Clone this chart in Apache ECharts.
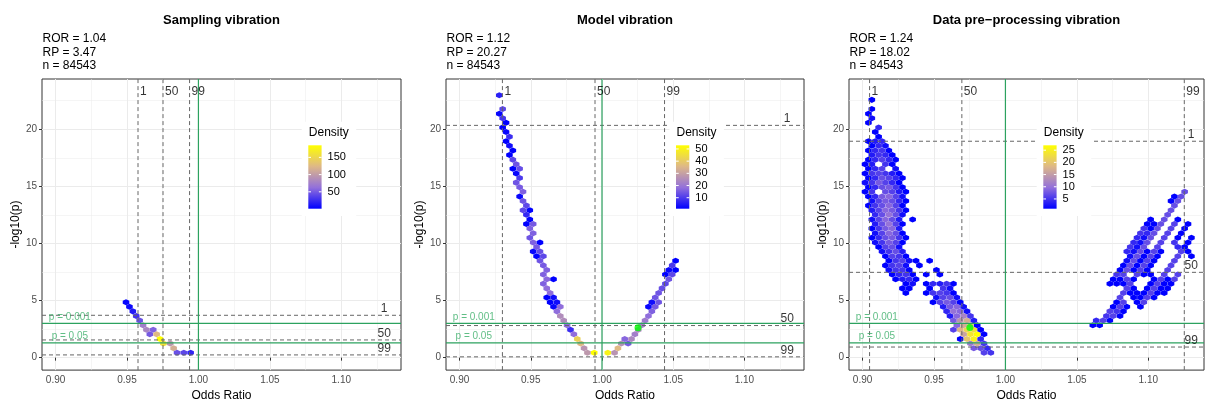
<!DOCTYPE html>
<html>
<head>
<meta charset="utf-8">
<script src="https://cdn.jsdelivr.net/npm/echarts@6/dist/echarts.min.js"></script>
<style>
  html, body { margin: 0; padding: 0; background: #fff; width: 100%; height: 100%; overflow: hidden; }
  #chart { width: 100vw; height: 100vh; }
</style>
</head>
<body>
<div id="chart"></div>
<script>
// ---------------- data ----------------
const panelTitles = ['Sampling vibration', 'Model vibration', 'Data pre\u2212processing vibration'];
const rorValues = ['1.04', '1.12', '1.24'];
const rpValues = ['3.47', '20.27', '18.02'];
const sampleSizes = [84543, 84543, 84543];
const xTicks = [0.90, 0.95, 1.00, 1.05, 1.10];
const yTicks = [0, 5, 10, 15, 20];

// 1st / 50th / 99th percentiles of the odds ratio and of -log10(p)
const pctLabels = ['1', '50', '99'];
const orPercentiles = [
  [0.9577, 0.9752, 0.9938],
  [0.9301, 0.9951, 1.0439],
  [0.9049, 0.9695, 1.1252]
];
const logpPercentiles = [
  [3.71, 1.55, 0.24],
  [20.34, 2.81, 0.07],
  [18.95, 7.47, 0.93]
];
const nullOddsRatio = 1;
const pThresholds = [0.001, 0.05];
const pThresholdLabels = ['p = 0.001', 'p = 0.05'];

const densityRange = [[1, 185], [1, 53], [1, 27]];
const densityTicks = [[50, 100, 150], [10, 20, 30, 40, 50], [5, 10, 15, 20, 25]];
const highlightPoints = [null, [1.0253, 2.61], [0.9751, 2.64]];

// hexagonal bins: row r / column c, odd rows shifted half a bin to the left
const BIN_X0 = 0.9041, BIN_W = 0.00476, BIN_Y0 = 0.43, BIN_H = 0.4026;

// [row, column, count]
const hexSampling = [
  [11, 10, 3], [10, 10, 6], [9, 11, 15], [8, 11, 28], [7, 12, 45], [6, 12, 75],
  [5, 13, 80], [5, 14, 55], [4, 13, 50], [4, 14, 125], [3, 15, 185],
  [2, 15, 160], [2, 16, 95], [1, 17, 115], [0, 17, 45], [0, 18, 40], [0, 19, 22]
];

const hexModel = [
  [56, 5, 6], [53, 6, 12], [52, 5, 2], [51, 6, 9], [50, 6, 1], [49, 6, 1], [48, 6, 2],
  [47, 7, 8], [46, 6, 1], [45, 7, 3], [44, 7, 1], [43, 7, 1], [42, 7, 12], [41, 8, 14],
  [40, 7, 1], [40, 8, 13], [39, 8, 2], [38, 8, 10], [37, 8, 14], [36, 8, 15], [35, 9, 16],
  [34, 8, 2], [33, 9, 14], [32, 9, 12], [31, 9, 12], [31, 10, 1], [30, 9, 7], [29, 10, 1],
  [28, 9, 1], [28, 10, 15], [27, 10, 16], [26, 10, 16], [25, 10, 14], [24, 10, 16], [24, 11, 1],
  [23, 11, 15], [22, 10, 2], [22, 11, 13], [21, 11, 1], [21, 12, 12], [20, 11, 14], [19, 12, 15],
  [18, 12, 16], [17, 12, 16], [16, 12, 17], [16, 13, 1], [15, 12, 16], [14, 12, 18], [13, 13, 18],
  [12, 12, 1], [12, 13, 3], [11, 13, 1], [11, 14, 3], [10, 13, 2], [10, 14, 18], [9, 14, 18],
  [8, 14, 25], [7, 15, 25], [6, 15, 18], [5, 16, 8], [4, 16, 18], [3, 17, 42], [2, 17, 36],
  [1, 18, 27], [0, 18, 28], [0, 19, 53],
  [0, 21, 50], [0, 22, 27], [1, 23, 36], [2, 23, 26], [2, 24, 15], [3, 24, 17], [3, 25, 24],
  [4, 25, 22], [5, 26, 24], [6, 26, 22], [7, 27, 21], [8, 27, 18], [9, 28, 16], [10, 27, 2],
  [10, 28, 15], [11, 28, 3], [11, 29, 14], [12, 28, 14], [13, 29, 14], [14, 29, 13], [15, 30, 12],
  [16, 30, 14], [17, 30, 1], [17, 31, 12], [18, 30, 2], [18, 31, 1], [19, 31, 10], [20, 31, 1]
];

// one entry per row (bottom row first): [first column, counts in base 36, '.' = empty bin]
const hexPreprocessing = [
  [[17, '65']],
  [[16, '874']],
  [[15, 'bh5']],
  [[14, '1kp4']],
  [[14, 'gor1']],
  [[13, '6imn1']],
  [[13, '9hj1'], [33, '11']],
  [[13, '8eh3'], [34, '461']],
  [[12, '39c5'], [35, '561']],
  [[12, '4a92'], [36, '651']],
  [[11, '3892'], [36, '161.1']],
  [[10, '16861'], [37, '16.16']],
  [[10, '2672'], [37, '6.1161']],
  [[6, '1..15651'], [38, '6111611']],
  [[5, '11..1.52'], [38, '61.1611']],
  [[6, '12.14351'], [36, '1116..1611']],
  [[4, '1341'], [36, '1161..1616']],
  [[4, '1451.1.1'], [37, '56.611.6.6']],
  [[3, '2551...1'], [37, '17161..6']],
  [[3, '1562.1'], [38, '17161..6']],
  [[3, '15621.1'], [38, '27161..6']],
  [[3, '1651'], [39, '27161..6.1']],
  [[2, '2573'], [38, '427161..61']],
  [[2, '1672'], [39, '527.6..41']],
  [[1, '25861'], [39, '427.6.5.1']],
  [[1, '147851'], [40, '427.6.1.1']],
  [[1, '26971'], [40, '547.6.1']],
  [[1, '15893'], [41, '517.6.1']],
  [[1, '37a61'], [41, '117.6.1']],
  [[1, '26973.1'], [42, '1.7.1']],
  [[1, '47a72'], [44, '7']],
  [[1, '369851'], [45, '7']],
  [[0, '157961'], [45, '7']],
  [[1, '268741'], [45, '17']],
  [[0, '148962'], [45, '17']],
  [[0, '15.7631'], [47, '7']],
  [[0, '147851']],
  [[0, '258641']],
  [[0, '147641']],
  [[0, '156531']],
  [[0, '146.2']],
  [[0, '13.51']],
  [[0, '14641']],
  [[1, '3541']],
  [[0, '1451']],
  [[1, '142']],
  [[0, '134']],
  [[2, '1']],
  [[1, '1']],
  [[2, '4']],
  [[0, '1']],
  [[1, '2']],
  [[0, '1']],
  [[1, '1']],
  [],
  [[1, '1']]
];

// ---------------- drawing ----------------
const FONT = '"Liberation Sans", Arial, Helvetica, sans-serif';
const PALETTE = ['#0000FF', '#9370DB', '#DEB887', '#FFFF00'];
const GREEN = '#2CA25F';
const GREEN_TEXT = '#3AAE68';
const DASH_GREY = '#666666';
const HEX_PATH = 'path://M0,-1L0.866,-0.5L0.866,0.5L0,1L-0.866,0.5L-0.866,-0.5Z';

const X_MIN = 0.8905, Y_MIN = -1.09, Y_MAX = 24.4;
// page layout in a 1205 x 407 frame, scaled to the actual canvas
const FRAME_W = 1205, FRAME_H = 407;
const panels = [
  { left: 42, top: 79, width: 359, height: 296, xMax: 1.1418, legendX: 308.3 },
  { left: 446, top: 79, width: 358, height: 296, xMax: 1.1418, legendX: 676.0 },
  { left: 849, top: 79, width: 355, height: 296, xMax: 1.1390, legendX: 1043.3 }
];
const LEGEND = { barTop: 145.3, barH: 63.4, barW: 13.3, boxTop: 121.7, boxH: 94.3, boxW: 54.5, titleY: 133 };

function hexCentre(row, col) {
  const shift = row % 2 === 1 ? -0.5 : 0;
  return [BIN_X0 + BIN_W * (col + shift), BIN_Y0 + BIN_H * row];
}
function fromTriples(list) {
  return list.map(([r, c, n]) => hexCentre(r, c).concat([n]));
}
function fromRows(rows) {
  const out = [];
  rows.forEach((segments, r) => {
    segments.forEach(([c0, codes]) => {
      for (let i = 0; i < codes.length; i++) {
        if (codes[i] === '.') continue;
        out.push(hexCentre(r, c0 + i).concat([parseInt(codes[i], 36)]));
      }
    });
  });
  return out;
}
const hexData = [fromTriples(hexSampling), fromTriples(hexModel), fromRows(hexPreprocessing)];

const el = document.getElementById('chart');
if (el.clientHeight < 100) el.style.height = FRAME_H + 'px';
if (el.clientWidth < 100) el.style.width = FRAME_W + 'px';
const chart = echarts.init(el, null, { renderer: 'canvas' });
const sx = chart.getWidth() / FRAME_W;
const sy = chart.getHeight() / FRAME_H;

const grid = [], xAxis = [], yAxis = [], series = [], visualMap = [], graphic = [];

function refLine(i, points, style, z) {
  return {
    type: 'line', xAxisIndex: i, yAxisIndex: i, data: points, silent: true, z: z,
    symbol: 'none', showSymbol: false, lineStyle: style, itemStyle: { color: style.color },
    emphasis: { disabled: true }, animation: false
  };
}

panels.forEach((p, i) => {
  const gl = p.left * sx, gt = p.top * sy, gw = p.width * sx, gh = p.height * sy;
  grid.push({
    left: gl, top: gt, width: gw, height: gh,
    show: true, borderColor: '#333333', borderWidth: 1, backgroundColor: 'transparent'
  });
  xAxis.push({
    type: 'value', gridIndex: i, min: X_MIN, max: p.xMax,
    name: 'Odds Ratio', nameLocation: 'middle', nameGap: 17,
    nameTextStyle: { color: '#000', fontSize: 12, fontFamily: FONT },
    axisLine: { show: false },
    axisTick: { show: true, length: 3, customValues: xTicks, lineStyle: { color: '#333', width: 1 } },
    axisLabel: { customValues: xTicks, formatter: v => v.toFixed(2), color: '#4D4D4D', fontSize: 10, margin: 5, fontFamily: FONT },
    splitLine: { show: true, lineStyle: { color: '#EBEBEB', width: 1 } },
    minorTick: { show: false, splitNumber: 2 },
    minorSplitLine: { show: true, lineStyle: { color: '#EBEBEB', width: 0.5 } }
  });
  yAxis.push({
    type: 'value', gridIndex: i, min: Y_MIN, max: Y_MAX,
    name: '-log10(p)', nameLocation: 'middle', nameGap: 20,
    nameTextStyle: { color: '#000', fontSize: 12, fontFamily: FONT },
    axisLine: { show: false },
    axisTick: { show: true, length: 3, customValues: yTicks, lineStyle: { color: '#333', width: 1 } },
    axisLabel: { customValues: yTicks, color: '#4D4D4D', fontSize: 10, margin: 5, fontFamily: FONT },
    splitLine: { show: true, lineStyle: { color: '#EBEBEB', width: 1 } },
    minorTick: { show: false, splitNumber: 2 },
    minorSplitLine: { show: true, lineStyle: { color: '#EBEBEB', width: 0.5 } }
  });

  // hexagon size follows the axis scales
  const pxPerX = gw / (p.xMax - X_MIN);
  const pxPerY = gh / (Y_MAX - Y_MIN);
  const hexW = BIN_W * pxPerX - 0.2;
  const hexH = BIN_H * pxPerY * 4 / 3 - 0.2;

  const hexIndex = series.length;
  series.push({
    type: 'scatter', name: 'hex' + i, xAxisIndex: i, yAxisIndex: i,
    data: hexData[i], symbol: HEX_PATH, symbolSize: [hexW, hexH],
    itemStyle: { opacity: 1 }, silent: true, z: 2
  });
  visualMap.push({
    type: 'continuous', show: false, seriesIndex: hexIndex, dimension: 2,
    min: densityRange[i][0], max: densityRange[i][1], inRange: { color: PALETTE }
  });

  // percentile lines (dashed grey)
  const dashed = { color: DASH_GREY, type: [4, 3], width: 1 };
  orPercentiles[i].forEach(v => series.push(refLine(i, [[v, Y_MIN], [v, Y_MAX]], dashed, 4)));
  logpPercentiles[i].forEach(v => series.push(refLine(i, [[X_MIN, v], [p.xMax, v]], dashed, 4)));
  // null effect and significance thresholds (solid green)
  const solid = { color: GREEN, type: 'solid', width: 1.2 };
  series.push(refLine(i, [[nullOddsRatio, Y_MIN], [nullOddsRatio, Y_MAX]], solid, 5));
  pThresholds.forEach(pv => {
    const y = -Math.log10(pv);
    series.push(refLine(i, [[X_MIN, y], [p.xMax, y]], solid, 5));
  });

  // percentile labels
  const textItems = [];
  orPercentiles[i].forEach((v, n) => textItems.push({
    value: [v, 23.3], name: pctLabels[n],
    label: { position: 'right', distance: 1.5, verticalAlign: 'middle' }
  }));
  logpPercentiles[i].forEach((v, n) => textItems.push({
    value: [1.13, v], name: pctLabels[n],
    label: { position: 'top', distance: 0 }
  }));
  series.push({
    type: 'scatter', xAxisIndex: i, yAxisIndex: i, symbolSize: 1, silent: true, z: 6,
    itemStyle: { color: 'rgba(0,0,0,0)' },
    label: { show: true, formatter: '{b}', color: '#000', fontSize: 12, lineHeight: 12, fontFamily: FONT },
    data: textItems
  });
  // significance threshold labels
  series.push({
    type: 'scatter', xAxisIndex: i, yAxisIndex: i, symbolSize: 1, silent: true, z: 6,
    itemStyle: { color: 'rgba(0,0,0,0)' },
    label: { show: true, formatter: '{b}', position: 'top', distance: 1, color: GREEN_TEXT, fontSize: 10, lineHeight: 10, fontFamily: FONT },
    data: pThresholds.map((pv, n) => ({ value: [0.91, -Math.log10(pv)], name: pThresholdLabels[n] }))
  });
  if (highlightPoints[i]) {
    series.push({
      type: 'scatter', xAxisIndex: i, yAxisIndex: i, symbol: 'circle', symbolSize: 7, silent: true, z: 7,
      itemStyle: { color: '#00FF00' }, data: [highlightPoints[i]]
    });
  }

  // title and summary lines
  graphic.push({
    type: 'text', x: gl + gw / 2, y: 20.5 * sy, z: 100,
    style: { text: panelTitles[i], fill: '#000', fontSize: 13, fontWeight: 'bold', fontFamily: FONT,
             align: 'center', verticalAlign: 'middle', textAlign: 'center', textVerticalAlign: 'middle' }
  });
  ['ROR = ' + rorValues[i], 'RP = ' + rpValues[i], 'n = ' + sampleSizes[i]].forEach((t, n) => {
    graphic.push({
      type: 'text', x: gl + 0.5, y: (39 + n * 13.3) * sy, z: 100,
      style: { text: t, fill: '#000', fontSize: 12, fontFamily: FONT,
               align: 'left', verticalAlign: 'middle', textAlign: 'left', textVerticalAlign: 'middle' }
    });
  });

  // density colour bar
  const bx = p.legendX * sx;
  const barTop = LEGEND.barTop * sy, barH = LEGEND.barH * sy;
  const [dMin, dMax] = densityRange[i];
  graphic.push({
    type: 'rect', z: 100, silent: true,
    shape: { x: bx - 6.6, y: LEGEND.boxTop * sy, width: LEGEND.boxW, height: LEGEND.boxH * sy },
    style: { fill: '#fff' }
  });
  graphic.push({
    type: 'text', x: bx + 0.5, y: LEGEND.titleY * sy, z: 101,
    style: { text: 'Density', fill: '#000', fontSize: 12, fontFamily: FONT,
             align: 'left', verticalAlign: 'middle', textAlign: 'left', textVerticalAlign: 'middle' }
  });
  graphic.push({
    type: 'rect', z: 101, silent: true,
    shape: { x: bx, y: barTop, width: LEGEND.barW, height: barH },
    style: {
      fill: new echarts.graphic.LinearGradient(0, 1, 0, 0,
        PALETTE.map((c, k) => ({ offset: k / (PALETTE.length - 1), color: c })))
    }
  });
  densityTicks[i].forEach(v => {
    const ty = barTop + (dMax - v) / (dMax - dMin) * barH;
    graphic.push({
      type: 'line', z: 102, silent: true,
      shape: { x1: bx, y1: ty, x2: bx + 2.7, y2: ty }, style: { stroke: '#fff', lineWidth: 1 }
    });
    graphic.push({
      type: 'line', z: 102, silent: true,
      shape: { x1: bx + LEGEND.barW - 2.7, y1: ty, x2: bx + LEGEND.barW, y2: ty }, style: { stroke: '#fff', lineWidth: 1 }
    });
    graphic.push({
      type: 'text', x: bx + LEGEND.barW + 6, y: ty, z: 102,
      style: { text: String(v), fill: '#000', fontSize: 11, fontFamily: FONT,
               align: 'left', verticalAlign: 'middle', textAlign: 'left', textVerticalAlign: 'middle' }
    });
  });
});

chart.setOption({
  animation: false,
  backgroundColor: '#fff',
  textStyle: { fontFamily: FONT },
  grid, xAxis, yAxis, series, visualMap, graphic
});
</script>
</body>
</html>
